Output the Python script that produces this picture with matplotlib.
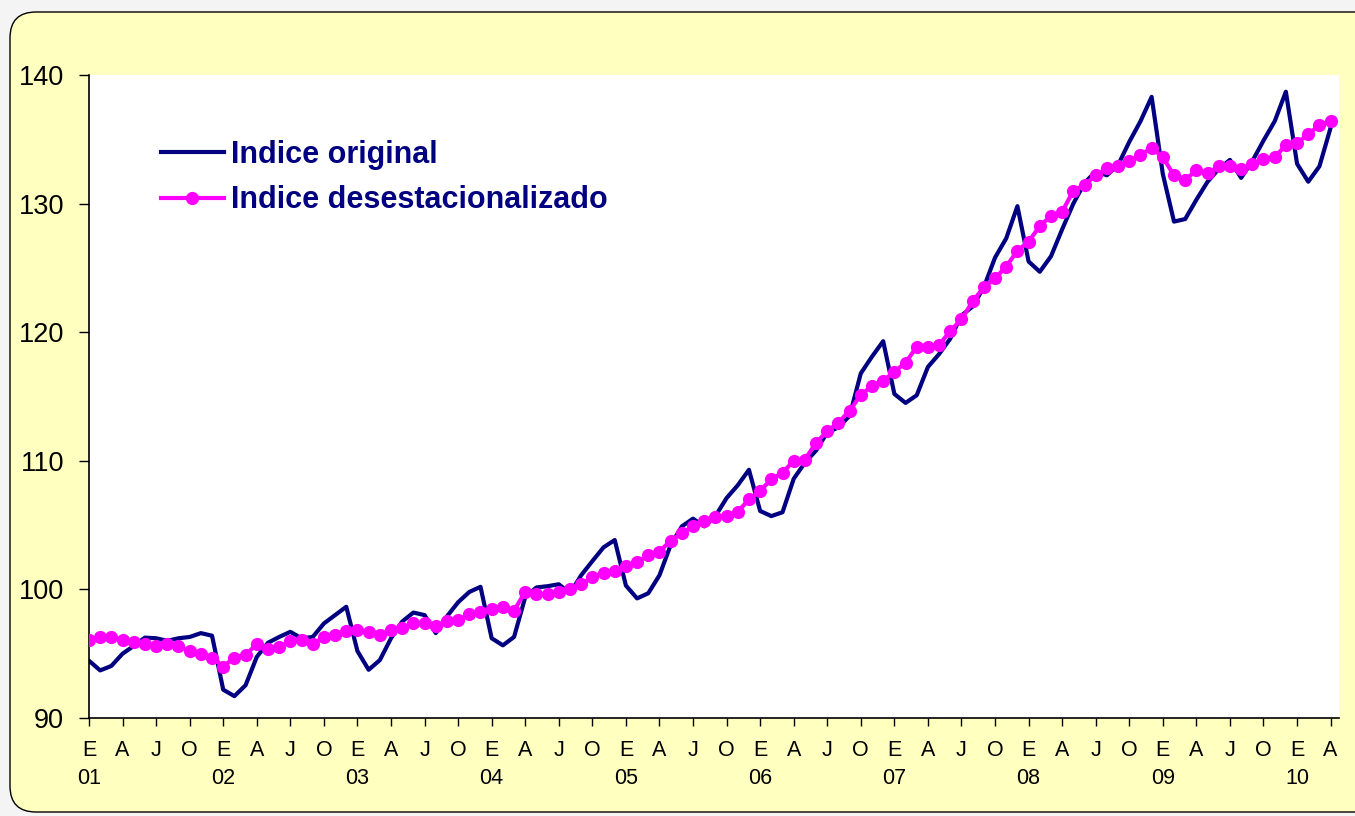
import numpy as np
import matplotlib
matplotlib.use('Agg')
import matplotlib.pyplot as plt
from matplotlib.patches import FancyBboxPatch
from matplotlib.transforms import IdentityTransform

plt.rcParams['font.family'] = ['Liberation Sans', 'DejaVu Sans']

# monthly index, Jan 2001 - Apr 2010
original = [
    94.45, 93.7, 94.05, 95.0, 95.6, 96.25, 96.2, 96.0, 96.2, 96.3, 96.6, 96.4,
    92.2, 91.7, 92.55, 94.75, 95.85, 96.3, 96.7, 96.2, 96.3, 97.35, 98.0, 98.65,
    95.2, 93.75, 94.5, 96.2, 97.5, 98.2, 98.0, 96.6, 97.9, 99.0, 99.8, 100.2,
    96.2, 95.65, 96.3, 99.4, 100.15, 100.25, 100.4, 99.7, 101.1, 102.2, 103.27, 103.84,
    100.3, 99.3, 99.7, 101.1, 103.45, 104.9, 105.5, 104.9, 105.7, 107.1, 108.1, 109.3,
    106.1, 105.7, 106.0, 108.6, 109.85, 110.8, 112.2, 112.6, 113.5, 116.8, 118.1, 119.3,
    115.2, 114.5, 115.1, 117.3, 118.3, 119.5, 121.3, 122.0, 123.5, 125.8, 127.3, 129.8,
    125.5, 124.7, 125.9, 128.0, 130.0, 131.6, 132.5, 132.2, 133.0, 134.8, 136.4, 138.3,
    132.3, 128.6, 128.8, 130.3, 131.7, 132.7, 133.4, 132.0, 133.3, 134.9, 136.4, 138.7,
    133.1, 131.7, 132.9, 135.9,
]
desest = [
    96.1, 96.3, 96.3, 96.1, 95.9, 95.75, 95.6, 95.75, 95.6, 95.2, 95.0, 94.7,
    94.0, 94.7, 94.9, 95.75, 95.35, 95.55, 95.95, 96.1, 95.75, 96.3, 96.45, 96.8,
    96.85, 96.7, 96.45, 96.85, 96.97, 97.35, 97.35, 97.15, 97.55, 97.65, 98.05, 98.25,
    98.45, 98.6, 98.35, 99.82, 99.64, 99.64, 99.82, 100.0, 100.4, 100.95, 101.3, 101.45,
    101.85, 102.1, 102.67, 102.93, 103.8, 104.36, 104.93, 105.34, 105.66, 105.7, 106.04, 107.0,
    107.67, 108.56, 109.08, 110.0, 110.1, 111.4, 112.3, 112.97, 113.9, 115.12, 115.82, 116.23,
    116.93, 117.63, 118.87, 118.87, 119.0, 120.1, 121.0, 122.4, 123.49, 124.19, 125.1, 126.34,
    127.04, 128.26, 129.04, 129.37, 131.0, 131.45, 132.2, 132.74, 132.9, 133.3, 133.78, 134.33,
    133.6, 132.2, 131.84, 132.6, 132.35, 132.92, 132.92, 132.66, 133.08, 133.44, 133.6, 134.56,
    134.69, 135.4, 136.1, 136.45,
]
month_letters = ['E', 'A', 'J', 'O']
years = ['01', '02', '03', '04', '05', '06', '07', '08', '09', '10']

W, H = 1355, 816
fig = plt.figure(figsize=(W / 100, H / 100), dpi=100)
fig.patch.set_facecolor('#f3f4f3')

# rounded yellow panel behind the axes
box = FancyBboxPatch((10, 4), 1400, 800, boxstyle='round,pad=0,rounding_size=26',
                     transform=IdentityTransform(), facecolor='#ffffc0',
                     edgecolor='black', linewidth=1.0, zorder=-10)
fig.patches.append(box)

ax = fig.add_axes([89 / W, (H - 718) / H, (1339 - 89) / W, (718 - 75) / H])
ax.set_zorder(5)
ax.set_facecolor('white')

x = np.arange(len(original))
ax.plot(x, original, color='#000080', linewidth=3.0, label='Indice original',
        solid_joinstyle='round', zorder=2)
ax.plot(x, desest, color='#ff00ff', linewidth=3.0, marker='o', markersize=9.5,
        markeredgewidth=0, label='Indice desestacionalizado', zorder=3)

ax.set_xlim(0, 111.75)
ax.set_ylim(90, 140)
ax.set_yticks([90, 100, 110, 120, 130, 140])
ax.tick_params(axis='y', direction='out', length=7, width=1, labelsize=19.5, pad=11)

ticks = list(range(0, len(original), 3))
labels = []
for t in ticks:
    lab = month_letters[(t % 12) // 3]
    if t % 12 == 0:
        lab = lab + '\n' + years[t // 12]
    labels.append(lab)
ax.set_xticks(ticks)
ax.set_xticklabels(labels, linespacing=1.45)
ax.tick_params(axis='x', direction='out', length=6, width=1, labelsize=15.5, pad=10)

for s in ['top', 'right']:
    ax.spines[s].set_visible(False)
for s in ['left', 'bottom']:
    ax.spines[s].set_linewidth(1.2)

leg = ax.legend(loc='upper left', bbox_to_anchor=(161 / W, 1 - 140 / H),
                bbox_transform=fig.transFigure, frameon=False, borderpad=0,
                borderaxespad=0, handlelength=2.05, handletextpad=0.25,
                labelspacing=0.5, prop={'weight': 'bold', 'size': 22})
for t in leg.get_texts():
    t.set_color('#000080')

fig.savefig('out.png', dpi=100, facecolor=fig.get_facecolor())
